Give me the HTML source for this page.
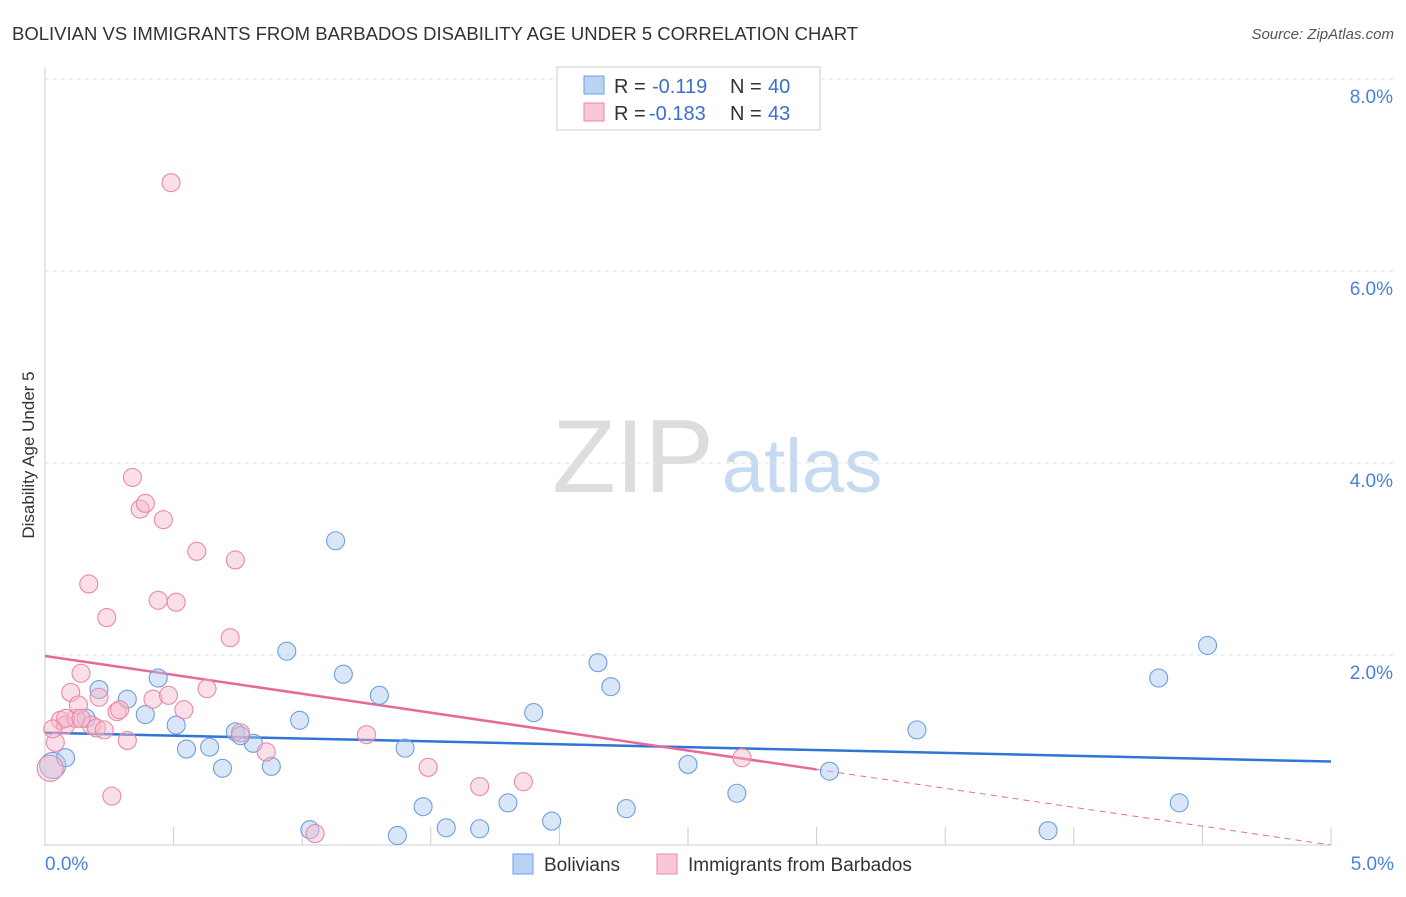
<!DOCTYPE html>
<html><head><meta charset="utf-8"><style>
body{margin:0;background:#fff;font-family:"Liberation Sans",sans-serif}
svg text{font-family:"Liberation Sans",sans-serif}
</style></head><body>
<svg id="chart" width="1406" height="892">
<text x="12" y="40" font-size="18.5" fill="#333">BOLIVIAN VS IMMIGRANTS FROM BARBADOS DISABILITY AGE UNDER 5 CORRELATION CHART</text>
<text x="1394" y="39" font-size="15" fill="#555" text-anchor="end" font-style="italic">Source: ZipAtlas.com</text>
<text x="34" y="455" font-size="17" fill="#333" text-anchor="middle" transform="rotate(-90 34 455)">Disability Age Under 5</text>
<g><text x="633" y="492" font-size="104" fill="#ddd" text-anchor="middle" font-family="Liberation Serif">ZIP</text><text x="802" y="492" font-size="76" fill="#c8daf2" text-anchor="middle">atlas</text></g>
<g id="grid"></g><g id="axes"></g><g id="lines"></g><g id="pts"></g>
<g>
<rect x="557" y="67" width="263" height="63" fill="#fff" stroke="#ccc"/>
<rect x="584" y="76" width="20" height="18" fill="#b9d3f5" stroke="#6e9fdf"/>
<text x="614" y="93" font-size="20" fill="#333">R =</text>
<text x="652" y="93" font-size="20" fill="#3a6fd0">-0.119</text>
<text x="730" y="93" font-size="20" fill="#333">N =</text>
<text x="768" y="93" font-size="20" fill="#3a6fd0">40</text>
<rect x="584" y="103" width="20" height="18" fill="#f9c6d5" stroke="#e98aa8"/>
<text x="614" y="120" font-size="20" fill="#333">R =</text>
<text x="649" y="120" font-size="20" fill="#3a6fd0">-0.183</text>
<text x="730" y="120" font-size="20" fill="#333">N =</text>
<text x="768" y="120" font-size="20" fill="#3a6fd0">43</text>
</g>
<g>
<rect x="513" y="854" width="20" height="20" fill="#b9d3f5" stroke="#6e9fdf"/>
<text x="544" y="871" font-size="19" fill="#333">Bolivians</text>
<rect x="657" y="854" width="20" height="20" fill="#f9c6d5" stroke="#e98aa8"/>
<text x="688" y="871" font-size="19" fill="#333">Immigrants from Barbados</text>
</g>
</svg>
<script>
const xTicks=[0,0.5,1,1.5,2,2.5,3,3.5,4,4.5,5];
const yTicks=[2,4,6,8];
const yTickLabels=["2.0%","4.0%","6.0%","8.0%"];
const blueX=[0.03,0.08,0.21,0.16,0.32,0.39,0.44,0.51,0.55,0.64,0.69,0.74,0.81,0.88,0.94,0.99,1.03,1.13,1.16,1.30,1.37,1.40,1.47,1.56,1.69,1.80,1.90,1.97,2.15,2.20,2.26,2.50,2.69,3.05,3.39,3.90,4.33,4.41,4.52,0.76];
const blueY=[0.85,0.93,1.64,1.34,1.54,1.38,1.76,1.27,1.02,1.04,0.82,1.20,1.08,0.84,2.04,1.32,0.18,3.19,1.80,1.58,0.12,1.03,0.42,0.20,0.19,0.46,1.40,0.27,1.92,1.67,0.40,0.86,0.56,0.79,1.22,0.17,1.76,0.46,2.10,1.16];
const pinkX=[0.02,0.04,0.06,0.08,0.10,0.12,0.13,0.14,0.17,0.18,0.20,0.21,0.23,0.24,0.26,0.28,0.32,0.34,0.37,0.39,0.42,0.44,0.46,0.48,0.51,0.54,0.59,0.63,0.72,0.74,0.76,0.86,1.05,1.25,1.49,1.69,1.86,2.71,0.49,0.08,0.29,0.03,0.14];
const pinkY=[0.82,1.09,1.32,1.27,1.61,1.34,1.48,1.81,2.74,1.27,1.24,1.56,1.22,2.39,0.53,1.41,1.11,3.85,3.52,3.58,1.54,2.57,3.41,1.58,2.55,1.43,3.08,1.65,2.18,2.99,1.19,0.99,0.14,1.17,0.83,0.63,0.68,0.93,6.92,1.34,1.43,1.23,1.34];
const blueTrend=[1.19,0.89];
const pinkTrend=[1.99,0.02];
const pinkSolidEnd=3.0;
const NS="http://www.w3.org/2000/svg";
const X=v=>45+v/5*1286, Y=v=>847-v*96;
function mk(p,t,a){const e=document.createElementNS(NS,t);for(const k in a)e.setAttribute(k,a[k]);p.appendChild(e);return e;}
const g=document.getElementById('grid'),ax=document.getElementById('axes'),ln=document.getElementById('lines'),pt=document.getElementById('pts');
yTicks.forEach((t,i)=>{const l=mk(g,'line',{x1:45,x2:1394,y1:Y(t),y2:Y(t),stroke:'#e2e2e2','stroke-dasharray':'4,4'});

const tx=mk(g,'text',{x:1393,y:Y(t)+24,'font-size':19,fill:'#4a80dd','text-anchor':'end'});tx.textContent=yTickLabels[i];
});
const al=mk(ax,'line',{x1:45,x2:45,y1:67,y2:846,stroke:'#ccc'});
const bl=mk(ax,'line',{x1:45,x2:1331,y1:845,y2:845,stroke:'#ccc'});
xTicks.forEach(t=>{const l=mk(ax,'line',{x1:X(t),x2:X(t),y1:827,y2:845,stroke:'#ccc'});});
[[0,'0.0%','start',45],[5,'5.0%','end',1394]].forEach(a=>{const tx=mk(ax,'text',{x:a[3],y:870,'font-size':19,fill:'#4a80dd','text-anchor':a[2]});tx.textContent=a[1];});
function pts(xs,ys,fill,stroke,name){xs.forEach((x,i)=>{const c=mk(pt,'circle',{cx:X(x),cy:Y(ys[i]),r:i==0?13:9,fill:fill,'fill-opacity':0.45,stroke:stroke,'stroke-width':1.1});
});}
pts(blueX,blueY,'#a9c8f0','#6e9fdf','bolivian-point');
pts(pinkX,pinkY,'#f7b9cc','#e98aa8','barbados-point');
const b=mk(ln,'line',{x1:X(0),y1:Y(blueTrend[0]),x2:X(5),y2:Y(blueTrend[1]),stroke:'#2f74d6','stroke-width':2.5});

const pm=pinkTrend[0]+(pinkTrend[1]-pinkTrend[0])*pinkSolidEnd/5;
const p=mk(ln,'line',{x1:X(0),y1:Y(pinkTrend[0]),x2:X(pinkSolidEnd),y2:Y(pm),stroke:'#e6699a','stroke-width':2.5});

const pd=mk(ln,'line',{x1:X(pinkSolidEnd),y1:Y(pm),x2:X(5),y2:Y(pinkTrend[1]),stroke:'#e6699a','stroke-width':1,'stroke-dasharray':'6,5'});

</script>
</body></html>
